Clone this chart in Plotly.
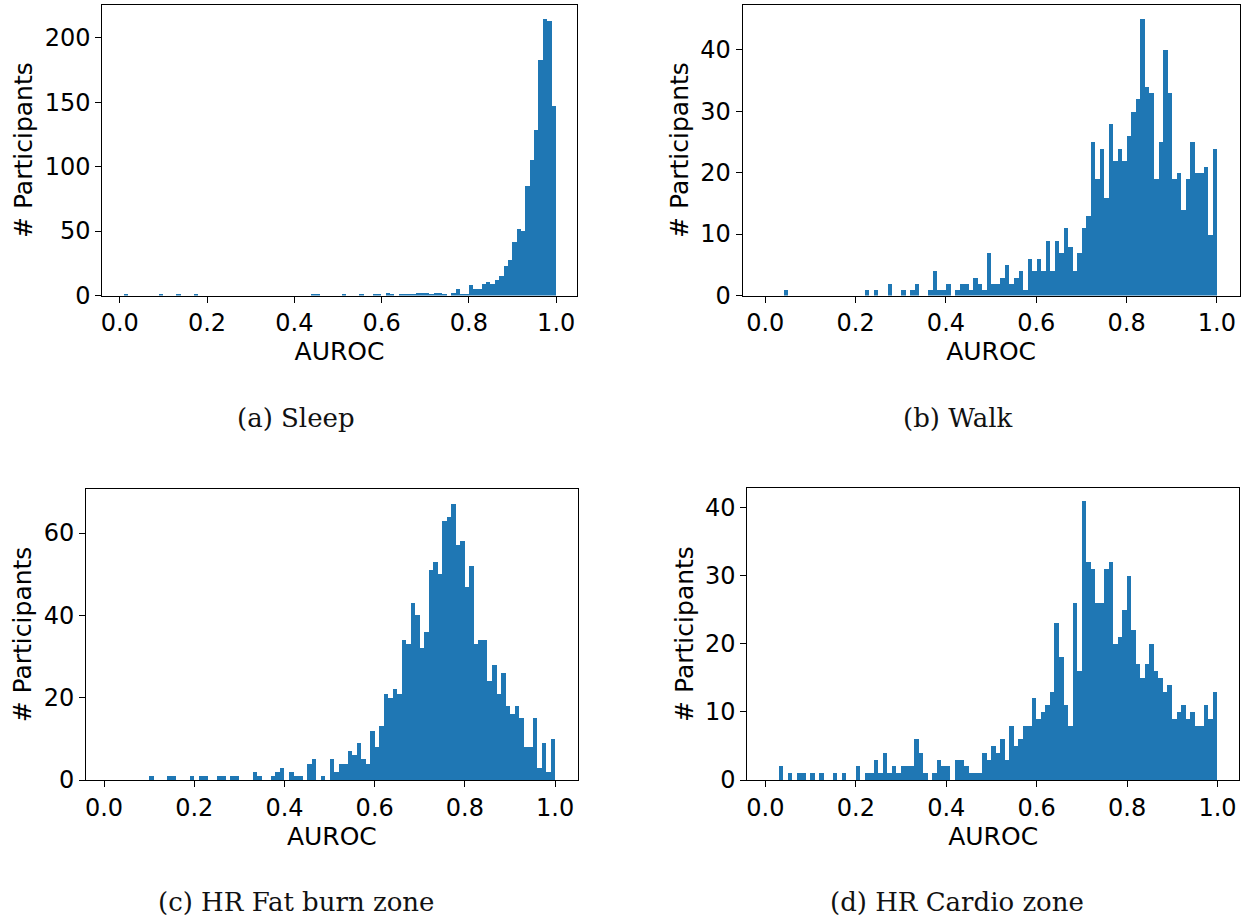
import numpy as np
import plotly.graph_objects as go

# ---------------- data ----------------
# histogram bins: 100 bins of width 0.01 covering AUROC 0..1
BIN_EDGES = np.linspace(0.0, 1.0, 101)
BIN_CENTERS = (BIN_EDGES[:-1] + BIN_EDGES[1:]) / 2
BIN_WIDTH = 0.01

sleep_counts = [
    0, 1, 0, 0, 0, 0, 0, 0, 0, 1,
    0, 0, 0, 1, 0, 0, 0, 1, 0, 0,
    0, 0, 0, 0, 0, 0, 0, 0, 0, 0,
    0, 0, 0, 0, 0, 0, 0, 0, 0, 0,
    0, 0, 0, 0, 1, 1, 0, 0, 0, 0,
    0, 1, 0, 0, 0, 1, 0, 0, 1, 1,
    0, 2, 1, 0, 1, 1, 1, 1, 2, 2,
    2, 1, 2, 2, 1, 0, 2, 5, 1, 1,
    8, 5, 5, 9, 11, 9, 12, 15, 23, 28,
    42, 52, 50, 85, 105, 129, 183, 215, 213, 147,
]

walk_counts = [
    0, 0, 0, 0, 1, 0, 0, 0, 0, 0,
    0, 0, 0, 0, 0, 0, 0, 0, 0, 0,
    0, 0, 1, 0, 1, 0, 0, 2, 0, 0,
    1, 0, 1, 2, 0, 0, 1, 4, 1, 1,
    2, 0, 1, 2, 2, 1, 3, 2, 1, 7,
    2, 2, 3, 5, 2, 3, 4, 1, 6, 4,
    6, 4, 9, 4, 9, 7, 11, 8, 4, 7,
    11, 13, 25, 19, 24, 16, 28, 22, 24, 22,
    26, 30, 32, 45, 34, 33, 19, 25, 40, 33,
    19, 20, 14, 19, 25, 20, 20, 21, 10, 24,
]

fatburn_counts = [
    0, 0, 0, 0, 0, 0, 0, 0, 0, 0,
    1, 0, 0, 0, 1, 1, 0, 0, 0, 1,
    0, 1, 1, 0, 0, 1, 1, 0, 1, 1,
    0, 0, 0, 2, 1, 0, 0, 1, 2, 3,
    0, 2, 1, 1, 0, 4, 5, 0, 1, 0,
    5, 2, 4, 4, 7, 6, 9, 5, 4, 12,
    8, 13, 21, 20, 22, 21, 34, 33, 43, 40,
    32, 36, 51, 53, 50, 63, 64, 67, 57, 58,
    47, 52, 33, 34, 34, 24, 28, 21, 26, 18,
    16, 18, 15, 8, 8, 15, 3, 9, 2, 10,
]

cardio_counts = [
    0, 0, 0, 2, 0, 1, 0, 1, 1, 0,
    1, 0, 1, 0, 0, 1, 0, 1, 0, 0,
    2, 0, 1, 1, 3, 1, 4, 1, 2, 1,
    2, 2, 2, 6, 4, 1, 0, 1, 3, 2,
    2, 0, 3, 3, 2, 1, 1, 1, 4, 3,
    5, 4, 6, 3, 8, 5, 6, 8, 8, 12,
    9, 10, 11, 13, 23, 18, 11, 8, 26, 16,
    41, 32, 31, 26, 26, 31, 32, 20, 21, 25,
    30, 22, 17, 15, 17, 20, 16, 15, 13, 14,
    9, 10, 11, 9, 10, 8, 8, 11, 9, 13,
]

x_ticks = [0.0, 0.2, 0.4, 0.6, 0.8, 1.0]
x_tick_labels = ["0.0", "0.2", "0.4", "0.6", "0.8", "1.0"]
captions = ["(a) Sleep", "(b) Walk", "(c) HR Fat burn zone", "(d) HR Cardio zone"]
x_title = "AUROC"
y_title = "# Participants"

# ---------------- layout geometry (pixels) ----------------
W, H = 1242, 918
BAR_COLOR = "#1f77b4"

panels = [
    dict(counts=sleep_counts, px=(102.3, 576.7), py=(4.7, 295.5),
         xr=(-0.040, 1.047), yr=(0, 225.6), yt=[0, 50, 100, 150, 200]),
    dict(counts=walk_counts, px=(742.7, 1239.5), py=(4.5, 295.5),
         xr=(-0.050, 1.050), yr=(0, 47.35), yt=[0, 10, 20, 30, 40]),
    dict(counts=fatburn_counts, px=(86.0, 577.7), py=(489.0, 780.0),
         xr=(-0.040, 1.050), yr=(0, 70.7), yt=[0, 20, 40, 60]),
    dict(counts=cardio_counts, px=(747.3, 1239.0), py=(488.0, 780.0),
         xr=(-0.040, 1.0475), yr=(0, 42.9), yt=[0, 10, 20, 30, 40]),
]
caption_pos = [(296, 418), (957, 418), (296, 902), (957, 902)]

fig = go.Figure()
layout = dict(
    width=W, height=H,
    margin=dict(l=0, r=0, t=0, b=0, autoexpand=False),
    paper_bgcolor="white", plot_bgcolor="white",
    showlegend=False,
    bargap=0,
    font=dict(family="DejaVu Sans", color="black", size=24),
)

tick_font = dict(family="DejaVu Sans", size=24, color="black")
title_font = dict(family="DejaVu Sans", size=25, color="black")

annotations = []
for k, p in enumerate(panels):
    sfx = "" if k == 0 else str(k + 1)
    xa = "x" + sfx
    ya = "y" + sfx
    fig.add_trace(go.Bar(
        x=BIN_CENTERS, y=p["counts"], width=BIN_WIDTH,
        marker=dict(color=BAR_COLOR, line=dict(width=0)),
        xaxis=xa, yaxis=ya,
        hovertemplate="AUROC %{x:.3f}<br>%{y}<extra></extra>",
    ))
    x0, x1 = p["px"][0] / W, p["px"][1] / W
    y0, y1 = 1 - p["py"][1] / H, 1 - p["py"][0] / H
    layout["xaxis" + sfx] = dict(
        domain=[x0, x1], range=list(p["xr"]), anchor=ya, automargin=True,
        tickmode="array", tickvals=x_ticks, ticktext=x_tick_labels,
        ticks="outside", ticklen=6, tickwidth=1, tickcolor="black",
        showline=True, linecolor="black", linewidth=1, mirror=True,
        showgrid=False, zeroline=False, tickfont=tick_font,
        title=dict(text=x_title, font=title_font, standoff=0),
    )
    layout["yaxis" + sfx] = dict(
        domain=[y0, y1], range=list(p["yr"]), anchor=xa, automargin=True,
        tickmode="array", tickvals=p["yt"],
        ticks="outside", ticklen=6, tickwidth=1, tickcolor="black",
        showline=True, linecolor="black", linewidth=1, mirror=True,
        showgrid=False, zeroline=False, tickfont=tick_font,
        title=dict(text=y_title, font=title_font, standoff=4),
    )
    cx, cy = caption_pos[k]
    annotations.append(dict(
        text=captions[k], x=cx / W, y=1 - cy / H, xref="paper", yref="paper",
        xanchor="center", yanchor="middle", showarrow=False,
        font=dict(family="DejaVu Serif", size=26, color="#111111"),
    ))

layout["annotations"] = annotations
fig.update_layout(**layout)
fig.write_html("out.html")
